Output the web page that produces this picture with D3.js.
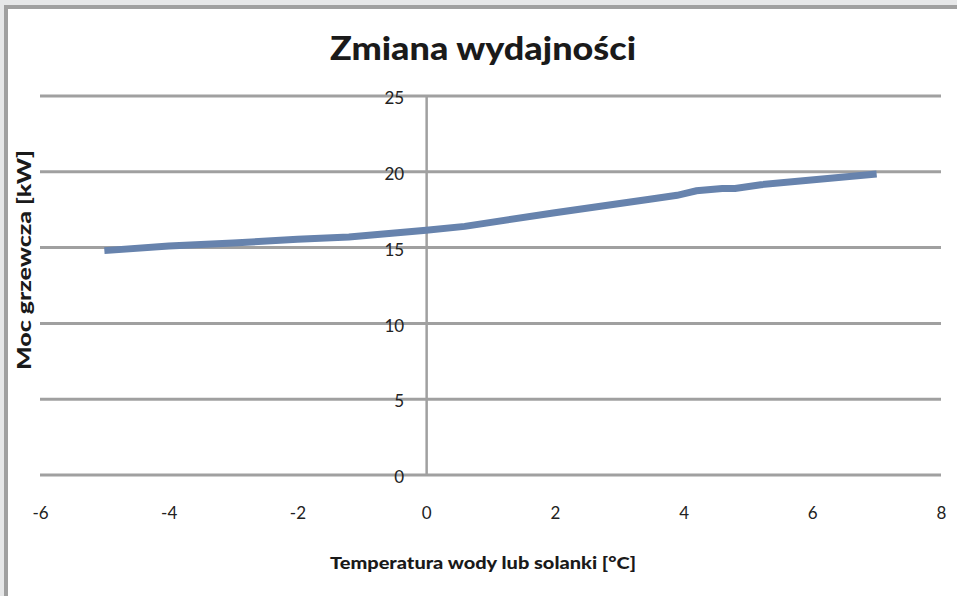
<!DOCTYPE html>
<html>
<head>
<meta charset="utf-8">
<script src="https://cdn.jsdelivr.net/npm/d3@7"></script>
<style>
  body { margin: 0; background: #e6e7e8; }
  svg { display: block; }
</style>
</head>
<body>
<svg width="957" height="596"></svg>
<script>
// data
const temps = [-5, -4, -3, -2, -1.2, 0, 0.6, 2, 3.5, 3.9, 4.2, 4.6, 4.8, 5.2, 7];
const power = [14.8, 15.1, 15.3, 15.55, 15.7, 16.15, 16.4, 17.3, 18.2, 18.45, 18.75, 18.9, 18.9, 19.15, 19.85];
const xTicks = [-6, -4, -2, 0, 2, 4, 6, 8];
const yTicks = [0, 5, 10, 15, 20, 25];

const title = 'Zmiana wydajności';
const xTitle = 'Temperatura wody lub solanki [°C]';
const yTitle = 'Moc grzewcza [kW]';

const data = temps.map((t, i) => ({ t: t, p: power[i] }));

const svg = d3.select('svg');
const gridColor = '#a0a0a0';
const font = 'Lato, "Open Sans", sans-serif';

// frame
svg.append('rect')
  .attr('x', 6).attr('y', 7)
  .attr('width', 1000).attr('height', 700)
  .attr('fill', 'white')
  .attr('stroke', gridColor)
  .attr('stroke-width', 4);

const xScale = d3.scaleLinear().domain([-6, 8]).range([40, 941]);
const yScale = d3.scaleLinear().domain([0, 25]).range([475, 96]);

// horizontal gridlines
svg.append('g')
  .selectAll('line')
  .data(yTicks)
  .enter()
  .append('line')
  .attr('x1', xScale(-6))
  .attr('x2', xScale(8))
  .attr('y1', d => yScale(d))
  .attr('y2', d => yScale(d))
  .attr('stroke', gridColor)
  .attr('stroke-width', 3);

// vertical axis at x = 0
const yAxis = d3.axisLeft(yScale)
  .tickValues(yTicks)
  .tickSize(0)
  .tickPadding(22);

const yAxisG = svg.append('g')
  .attr('transform', `translate(${xScale(0)},0)`)
  .call(yAxis);
yAxisG.select('.domain')
  .attr('stroke', gridColor)
  .attr('stroke-width', 2.5);
yAxisG.selectAll('text')
  .attr('font-family', font)
  .attr('font-size', 17)
  .attr('fill', '#222')
  .attr('dy', '0.45em');

// x tick labels, plain hyphen for negatives like the original
const xAxis = d3.axisBottom(xScale)
  .tickValues(xTicks)
  .tickFormat(d => String(d))
  .tickSize(0)
  .tickPadding(0);

const xAxisG = svg.append('g')
  .attr('transform', `translate(0,510)`)
  .call(xAxis);
xAxisG.select('.domain').remove();
xAxisG.selectAll('text')
  .attr('font-family', font)
  .attr('font-size', 17)
  .attr('fill', '#222')
  .attr('dy', '0.55em');

// series line
const line = d3.line()
  .x(d => xScale(d.t))
  .y(d => yScale(d.p));

svg.append('path')
  .datum(data)
  .attr('d', line)
  .attr('fill', 'none')
  .attr('stroke', '#6783ad')
  .attr('stroke-width', 7);

// titles
svg.append('text')
  .text(title)
  .attr('x', 483)
  .attr('y', 60)
  .attr('text-anchor', 'middle')
  .attr('font-family', font)
  .attr('font-weight', 900)
  .attr('font-size', 32)
  .attr('fill', '#1a1a1a')
  .attr('textLength', 306)
  .attr('lengthAdjust', 'spacingAndGlyphs');

svg.append('text')
  .text(xTitle)
  .attr('x', 483)
  .attr('y', 569)
  .attr('text-anchor', 'middle')
  .attr('font-family', font)
  .attr('font-weight', 900)
  .attr('font-size', 17)
  .attr('fill', '#1a1a1a')
  .attr('textLength', 306)
  .attr('lengthAdjust', 'spacingAndGlyphs');

svg.append('text')
  .text(yTitle)
  .attr('text-anchor', 'middle')
  .attr('font-family', font)
  .attr('font-weight', 900)
  .attr('font-size', 18)
  .attr('fill', '#1a1a1a')
  .attr('textLength', 220)
  .attr('lengthAdjust', 'spacingAndGlyphs')
  .attr('transform', 'translate(31,260)rotate(-90)');
</script>
</body>
</html>
